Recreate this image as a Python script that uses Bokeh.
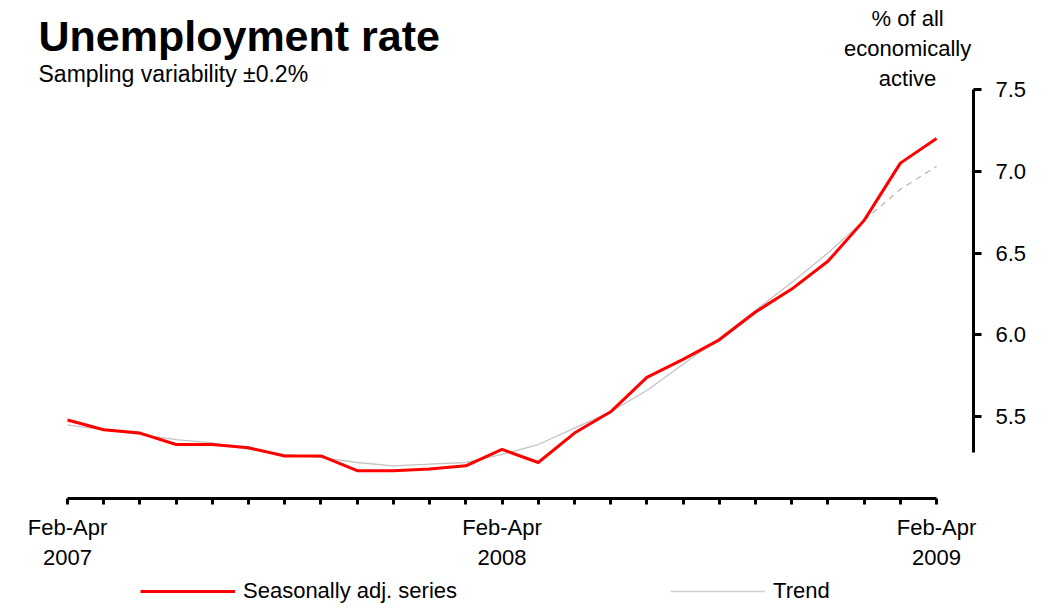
from bokeh.plotting import figure
from bokeh.layouts import column
from bokeh.models import Range1d, FixedTicker, Label, Legend, LegendItem, NumeralTickFormatter
from bokeh.embed import file_html
from bokeh.resources import INLINE

# ---- data -------------------------------------------------------------
periods = [
    "Feb-Apr 2007", "Mar-May 2007", "Apr-Jun 2007", "May-Jul 2007", "Jun-Aug 2007",
    "Jul-Sep 2007", "Aug-Oct 2007", "Sep-Nov 2007", "Oct-Dec 2007", "Nov-Jan 2008",
    "Dec-Feb 2008", "Jan-Mar 2008", "Feb-Apr 2008", "Mar-May 2008", "Apr-Jun 2008",
    "May-Jul 2008", "Jun-Aug 2008", "Jul-Sep 2008", "Aug-Oct 2008", "Sep-Nov 2008",
    "Oct-Dec 2008", "Nov-Jan 2009", "Dec-Feb 2009", "Jan-Mar 2009", "Feb-Apr 2009",
]
seasonally_adj = [5.48, 5.42, 5.40, 5.33, 5.33, 5.31, 5.26, 5.26, 5.17, 5.17,
                  5.18, 5.20, 5.30, 5.22, 5.40, 5.53, 5.74, 5.85, 5.97, 6.14,
                  6.28, 6.45, 6.70, 7.05, 7.20]
trend = [5.45, 5.42, 5.39, 5.36, 5.34, 5.30, 5.27, 5.25, 5.22, 5.20,
         5.21, 5.22, 5.27, 5.33, 5.43, 5.53, 5.66, 5.82, 5.98, 6.15,
         6.32, 6.50, 6.70, 6.89, 7.03]
trend_solid_until = 22          # last index of the solid trend; dashed afterwards
x_tick_labels = {0: "Feb-Apr\n2007", 12: "Feb-Apr\n2008", 24: "Feb-Apr\n2009"}
y_ticks = [5.5, 6.0, 6.5, 7.0, 7.5]

title = "Unemployment rate"
subtitle = "Sampling variability \u00b10.2%"
unit_lines = ["% of all", "economically", "active"]
legend_labels = ["Seasonally adj. series", "Trend"]

FONT = "Liberation Sans"
RED = "#ff0000"
GREY = "#c4c4c4"
x = list(range(len(periods)))

# ---- main chart -------------------------------------------------------
p = figure(frame_width=973, frame_height=498,
           x_range=Range1d(-1.850, 25.02), y_range=Range1d(5.0, 8.044),
           y_axis_location="right", output_backend="svg", toolbar_location=None,
           min_border_left=0, min_border_top=0, min_border_right=0, min_border_bottom=0)
p.outline_line_color = None
p.grid.visible = False
p.background_fill_color = "white"
p.border_fill_color = "white"

xa = p.xaxis[0]
xa.bounds = (0, len(x) - 1)
xa.ticker = FixedTicker(ticks=x)
xa.major_label_overrides = {i: x_tick_labels.get(i, "") for i in x}
xa.axis_line_width = 3
xa.axis_line_color = "black"
xa.major_tick_line_width = 3
xa.major_tick_line_color = "black"
xa.major_tick_out = 6
xa.major_tick_in = 0
xa.minor_tick_line_color = None
xa.major_label_text_font = FONT
xa.major_label_text_font_size = "22px"
xa.major_label_text_color = "black"
xa.major_label_standoff = 10

ya = p.yaxis[0]
ya.bounds = (5.28, 7.5)
ya.ticker = FixedTicker(ticks=y_ticks)
ya.formatter = NumeralTickFormatter(format="0.0")
ya.axis_line_width = 3
ya.axis_line_color = "black"
ya.major_tick_line_width = 3
ya.major_tick_line_color = "black"
ya.major_tick_out = 8
ya.major_tick_in = 0
ya.minor_tick_line_color = None
ya.major_label_text_font = FONT
ya.major_label_text_font_size = "22px"
ya.major_label_text_color = "black"
ya.major_label_standoff = 14

p.line(x[:trend_solid_until + 1], trend[:trend_solid_until + 1],
       line_color=GREY, line_width=1.3)
p.line(x[trend_solid_until:], trend[trend_solid_until:],
       line_color="#b8b8b8", line_width=1.3, line_dash="6 5")
p.line(x, seasonally_adj, line_color=RED, line_width=3)

p.add_layout(Label(x=-0.80, y=7.828, text=title, text_font=FONT, text_font_style="bold",
                   text_font_size="43px", text_color="black", text_baseline="alphabetic"))
p.add_layout(Label(x=-0.80, y=7.592, text=subtitle, text_font=FONT,
                   text_font_size="23px", text_color="black", text_baseline="alphabetic"))
for line_text, yy in zip(unit_lines, [7.934, 7.751, 7.567]):
    p.add_layout(Label(x=23.2, y=yy, text=line_text, text_font=FONT, text_align="center",
                       text_font_size="22px", text_color="black", text_baseline="alphabetic"))

# ---- legend strip (legend-only proxies, nothing drawn) -----------------
nan = float("nan")
lg = figure(frame_width=973, frame_height=34, x_range=Range1d(0, 1), y_range=Range1d(0, 1),
            x_axis_type=None, y_axis_type=None, output_backend="svg", toolbar_location=None,
            min_border_left=0, min_border_top=0, min_border_right=0, min_border_bottom=0)
lg.outline_line_color = None
lg.grid.visible = False
lg.border_fill_color = "white"
r_sa = lg.line([nan, nan], [nan, nan], line_color=RED, line_width=3)
r_tr = lg.line([nan, nan], [nan, nan], line_color="#d0d0d0", line_width=1.5)
legend = Legend(items=[LegendItem(label=legend_labels[0], renderers=[r_sa], index=0),
                       LegendItem(label=legend_labels[1], renderers=[r_tr], index=0)],
                orientation="horizontal", location=(140, 2), glyph_width=95, glyph_height=20,
                label_standoff=8, spacing=213, padding=0, margin=0,
                border_line_color=None, background_fill_alpha=0,
                label_text_font=FONT, label_text_font_size="22px", label_text_color="black")
lg.add_layout(legend)

open("out.html", "w").write(file_html(column(p, lg, spacing=0), INLINE))
